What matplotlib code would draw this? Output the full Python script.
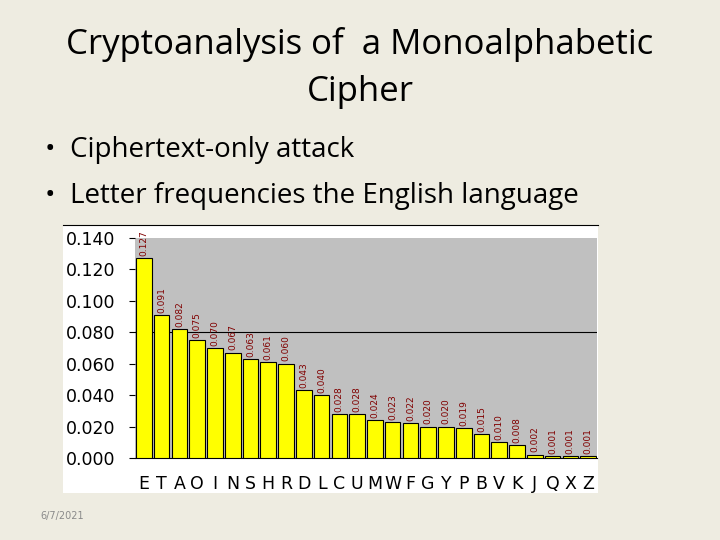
import matplotlib
matplotlib.use("Agg")
import matplotlib.pyplot as plt
from matplotlib.patches import Rectangle

letters = list("ETAOINSHRDLCUMWFGYPBVKJQXZ")
freqs = [0.127, 0.091, 0.082, 0.075, 0.070, 0.067, 0.063, 0.061, 0.060, 0.043, 0.040,
         0.028, 0.028, 0.024, 0.023, 0.022, 0.020, 0.020, 0.019, 0.015, 0.010, 0.008,
         0.002, 0.001, 0.001, 0.001]
yticks = [0.0, 0.02, 0.04, 0.06, 0.08, 0.10, 0.12, 0.14]

W, H = 720, 540
fig = plt.figure(figsize=(7.2, 5.4), dpi=100)
fig.patch.set_facecolor("#EEECE1")

fig.text(0.5, 1 - 45/H, "Cryptoanalysis of  a Monoalphabetic", ha="center", va="center",
         fontsize=25, family="Open Sans")
fig.text(0.5, 1 - 92/H, "Cipher", ha="center", va="center", fontsize=25, family="Open Sans")
fig.text(45/W, 1 - 150/H, "•  Ciphertext-only attack", ha="left", va="center",
         fontsize=20, family="Open Sans")
fig.text(45/W, 1 - 196/H, "•  Letter frequencies the English language", ha="left", va="center",
         fontsize=20, family="Open Sans")
fig.text(40/W, 1 - 516/H, "6/7/2021", ha="left", va="center", fontsize=7, color="#8a8a8a")

bg = Rectangle((63/W, 1 - 493/H), (598-63)/W, (493-225)/H, transform=fig.transFigure,
               facecolor="white", edgecolor="none", zorder=-10)
fig.add_artist(bg)
fig.add_artist(plt.Line2D([63/W, 598/W], [1-225/H, 1-225/H], color="black", lw=0.8, zorder=-5))

ax = fig.add_axes([135/W, 1 - 458/H, (597-135)/W, (458-238)/H], zorder=5)
ax.set_facecolor("#C0C0C0")
x = range(len(letters))
ax.bar(x, freqs, width=0.88, color="#FFFF00", edgecolor="black", linewidth=0.8, zorder=3)
ax.axhline(0.08, color="black", lw=0.8, zorder=2)
for i, v in enumerate(freqs):
    ax.text(i, v + 0.0015, f"{v:.3f}", rotation=90, ha="center", va="bottom",
            fontsize=6.5, color="#800000", zorder=4)
ax.set_xlim(-0.5, len(letters) - 0.5)
ax.set_ylim(0, 0.14)
ax.set_yticks(yticks)
ax.set_yticklabels([f"{t:.3f}" for t in yticks], fontsize=12.5)
ax.set_xticks(list(x))
ax.set_xticklabels(letters, fontsize=12.5)
ax.tick_params(axis="x", length=0, pad=12)
ax.tick_params(axis="y", length=4, pad=10)
for s in ["top", "right", "left"]:
    ax.spines[s].set_visible(False)
ax.spines["bottom"].set_linewidth(0.8)

fig.savefig("out.png", dpi=100, facecolor=fig.get_facecolor())
